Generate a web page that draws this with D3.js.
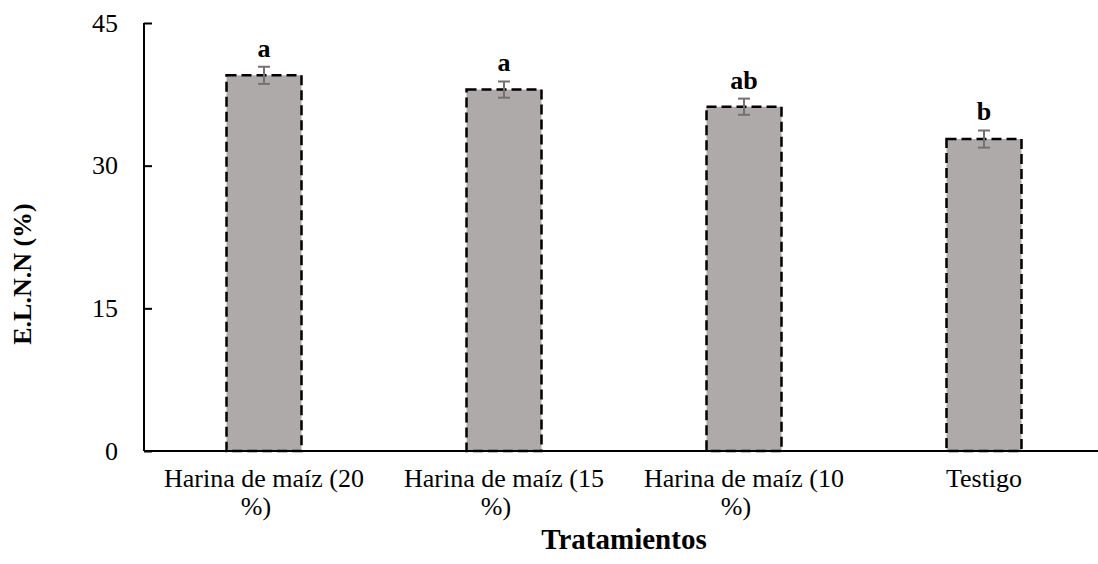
<!DOCTYPE html>
<html><head><meta charset="utf-8">
<script src="https://cdn.jsdelivr.net/npm/d3@7"></script>
<style>body{margin:0;background:#fff}svg{display:block}</style>
</head><body>
<svg id="chart" width="1098" height="564"></svg>
<script>
const categories = [["Harina de maíz (20", "%)"], ["Harina de maíz (15", "%)"], ["Harina de maíz (10", "%)"], ["Testigo"]];
const values = [39.5, 38.0, 36.2, 32.8];
const errors = [0.9, 0.85, 0.85, 0.9];
const letters = ["a", "a", "ab", "b"];
const yTicks = [0, 15, 30, 45];
const yTitle = "E.L.N.N (%)";
const xTitle = "Tratamientos";

const svg = d3.select("#chart");
const font = "'Liberation Serif','Times New Roman',serif";
const mLeft = 144, mTop = 23, mBottom = 451, mRight = 1104;
const keys = categories.map((c, i) => i);
const x = d3.scaleBand().domain(keys).range([mLeft, mRight]).paddingInner(0.6875).paddingOuter(0.34375);
const y = d3.scaleLinear().domain([0, 45]).range([mBottom, mTop]);

// bars
svg.selectAll("rect.bar").data(values).enter().append("rect")
  .attr("x", (d, i) => x(i)).attr("width", x.bandwidth())
  .attr("y", d => y(d)).attr("height", d => y(0) - y(d))
  .attr("fill", "#AEAAAA").attr("stroke", "#000").attr("stroke-width", 2.5)
  .attr("stroke-dasharray", "10,5");

// error bars
const eg = svg.append("g").attr("stroke", "#767171").attr("stroke-width", 2).attr("fill", "none");
values.forEach((v, i) => {
  const cx = x(i) + x.bandwidth() / 2;
  eg.append("line").attr("x1", cx).attr("x2", cx).attr("y1", y(v + errors[i])).attr("y2", y(v - errors[i]));
  eg.append("line").attr("x1", cx - 6).attr("x2", cx + 6).attr("y1", y(v + errors[i])).attr("y2", y(v + errors[i]));
  eg.append("line").attr("x1", cx - 6).attr("x2", cx + 6).attr("y1", y(v - errors[i])).attr("y2", y(v - errors[i]));
});

// letters
svg.selectAll("text.lett").data(values).enter().append("text")
  .attr("x", (d, i) => x(i) + x.bandwidth() / 2)
  .attr("y", (d, i) => y(d + errors[i]) - 10)
  .attr("text-anchor", "middle").attr("font-family", font).attr("font-weight", "bold")
  .attr("font-size", 26).text((d, i) => letters[i]);

// y axis
const yAxis = svg.append("g").attr("transform", `translate(${mLeft},0)`)
  .call(d3.axisLeft(y).tickValues(yTicks).tickSize(-8).tickPadding(26));
yAxis.select(".domain").attr("stroke", "#000").attr("stroke-width", 2).attr("d", `M0,${mTop}V${mBottom}`);
yAxis.selectAll(".tick line").attr("stroke", "#000").attr("stroke-width", 2);
yAxis.selectAll(".tick text").attr("font-family", font).attr("font-size", 26).attr("fill", "#000");

// x axis
const xAxis = svg.append("g").attr("transform", `translate(0,${mBottom})`)
  .call(d3.axisBottom(x).tickSize(0).tickFormat(""));
xAxis.select(".domain").attr("stroke", "#000").attr("stroke-width", 2).attr("d", `M${mLeft},0H${mRight}`);
keys.forEach(i => {
  const cx = x(i) + x.bandwidth() / 2;
  categories[i].forEach((line, j) => {
    svg.append("text").attr("x", cx - (j ? 8 : 0)).attr("y", 487 + j * 28)
      .attr("text-anchor", "middle").attr("font-family", font).attr("font-size", 26)
      .attr("fill", "#000").text(line);
  });
});

// titles
svg.append("text").attr("x", 624).attr("y", 549).attr("text-anchor", "middle")
  .attr("font-family", font).attr("font-weight", "bold").attr("font-size", 29).text(xTitle);
svg.append("text").attr("transform", "translate(31,274) rotate(-90)").attr("text-anchor", "middle")
  .attr("font-family", font).attr("font-weight", "bold").attr("font-size", 26).text(yTitle);
</script>
</body></html>
